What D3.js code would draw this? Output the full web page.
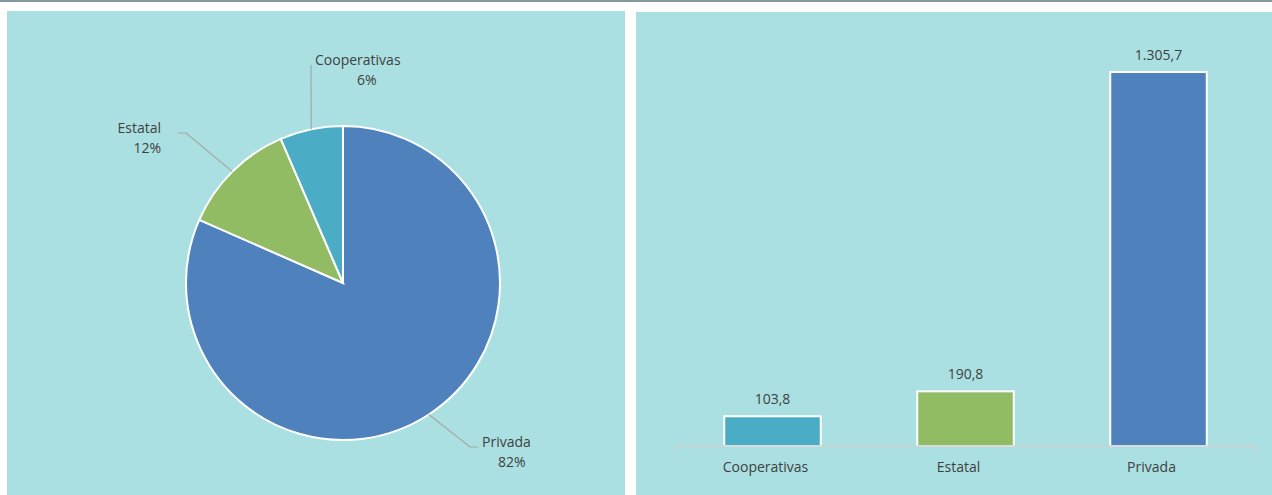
<!DOCTYPE html>
<html lang="es">
<head>
<meta charset="UTF-8">
<title>Distribución por sector</title>
<script src="https://d3js.org/d3.v7.min.js"></script>
<style>
  body { margin: 0; background: #fff; }
  svg { display: block; }
  text { font-family: "Open Sans", sans-serif; fill: #404040; font-size: 14px; }
</style>
</head>
<body>
<svg id="chart" width="1272" height="495"></svg>
<script>
// data
const categories = ["Cooperativas", "Estatal", "Privada"];
const values = [103.8, 190.8, 1305.7];
const colors = ["#4BACC6", "#92BC63", "#4F81BD"];

const svg = d3.select("#chart");
const fmt = d3.formatLocale({ decimal: ",", thousands: ".", grouping: [3], currency: ["", ""] }).format(",.1f");

// top rule
svg.append("rect").attr("x", 0).attr("y", 0).attr("width", 1272).attr("height", 2).attr("fill", "#8299a0");

// panels
svg.append("rect").attr("x", 7).attr("y", 11).attr("width", 618).attr("height", 484).attr("fill", "#ABE0E2");
svg.append("rect").attr("x", 636).attr("y", 12).attr("width", 636).attr("height", 483).attr("fill", "#ABE0E2");

// ---- pie ----
const cx = 343, cy = 283, r = 157;
const pieOrder = [2, 1, 0]; // Privada first, clockwise from 12 o'clock
const total = d3.sum(values);
const pie = d3.pie().sort(null).value(i => values[i]);
const arcs = pie(pieOrder);
const arc = d3.arc().innerRadius(0).outerRadius(r);

const g = svg.append("g").attr("transform", `translate(${cx},${cy})`);
g.selectAll("path").data(arcs).join("path")
  .attr("d", arc)
  .attr("fill", d => colors[d.data])
  .attr("stroke", "#fff")
  .attr("stroke-width", 2);

// label layout per category (relative to pie centre)
const labelPos = {
  0: { elbow: null, end: [-32, -218], name: [-28, -218], pct: [14, -198], anchor: "start" },
  1: { elbow: [-157, -150], end: [-165, -150], name: [-182, -150], pct: [-182, -130], anchor: "end" },
  2: { elbow: [127, 164], end: [135, 164], name: [139, 164], pct: [155, 184], anchor: "start" }
};

arcs.forEach(d => {
  const a = (d.startAngle + d.endAngle) / 2;
  const p0 = [Math.sin(a) * r, -Math.cos(a) * r];
  const lp = labelPos[d.data];
  const pts = [p0];
  if (lp.elbow) pts.push(lp.elbow);
  pts.push(lp.end);
  g.append("path")
    .attr("d", d3.line()(pts))
    .attr("fill", "none")
    .attr("stroke", "#a6a6a6")
    .attr("stroke-width", 1.2);
  g.append("text")
    .attr("x", lp.name[0]).attr("y", lp.name[1])
    .attr("text-anchor", lp.anchor)
    .text(categories[d.data]);
  g.append("text")
    .attr("x", lp.pct[0]).attr("y", lp.pct[1])
    .attr("text-anchor", lp.anchor)
    .text(Math.round(values[d.data] / total * 100) + "%");
});

// ---- bars ----
const baseY = 446;
const x = d3.scaleBand().domain(categories).range([676, 1255]).paddingInner(0.5).paddingOuter(0.25);
const y = d3.scaleLinear().domain([0, 1305.7]).range([baseY, 72]);

svg.append("g").selectAll("rect").data(categories).join("rect")
  .attr("x", d => x(d))
  .attr("y", (d, i) => y(values[i]))
  .attr("width", x.bandwidth())
  .attr("height", (d, i) => baseY - y(values[i]))
  .attr("fill", (d, i) => colors[i])
  .attr("stroke", "#fff")
  .attr("stroke-width", 2);

// baseline with end ticks
const ax = svg.append("g").attr("transform", `translate(0,${baseY})`).call(d3.axisBottom(x).tickSize(0));
ax.select(".domain").attr("stroke", "#d0d0d0").attr("stroke-width", 1.5)
  .attr("d", `M676,5V0H1255V5`);
ax.selectAll("text").attr("x", -7).attr("y", 26).attr("dy", 0)
  .attr("fill", "#404040")
  .style("font-size", "14px")
  .style("font-family", "'Open Sans', sans-serif");

svg.append("g").selectAll("text").data(categories).join("text")
  .attr("x", d => x(d) + x.bandwidth() / 2)
  .attr("y", (d, i) => y(values[i]) - 12)
  .attr("text-anchor", "middle")
  .text((d, i) => fmt(values[i]));
</script>
</body>
</html>
